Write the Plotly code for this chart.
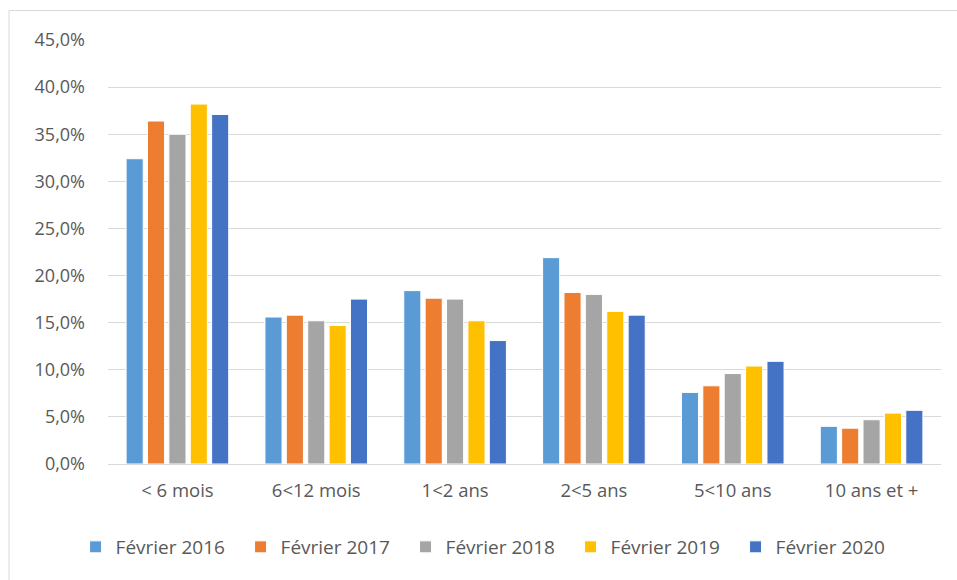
import plotly.graph_objects as go

categories = ["< 6 mois", "6<12 mois", "1<2 ans", "2<5 ans", "5<10 ans", "10 ans et +"]

series_names = ["Février 2016", "Février 2017", "Février 2018", "Février 2019", "Février 2020"]
fev_2016 = [32.4, 15.6, 18.4, 21.9, 7.6, 4.0]
fev_2017 = [36.4, 15.8, 17.6, 18.2, 8.3, 3.8]
fev_2018 = [35.0, 15.2, 17.5, 18.0, 9.6, 4.7]
fev_2019 = [38.2, 14.7, 15.2, 16.2, 10.4, 5.4]
fev_2020 = [37.1, 17.5, 13.1, 15.8, 10.9, 5.7]

colors = ["#5B9BD5", "#ED7D31", "#A5A5A5", "#FFC000", "#4472C4"]
tick_values = [0, 5, 10, 15, 20, 25, 30, 35, 40, 45]

fig = go.Figure()
for name, vals, col in zip(series_names,
                           [fev_2016, fev_2017, fev_2018, fev_2019, fev_2020],
                           colors):
    fig.add_trace(go.Bar(
        x=categories,
        y=[v / 100 for v in vals],
        name=name,
        marker=dict(color=col, line=dict(color="white", width=1)),
    ))

font_family = "Open Sans, Liberation Sans, sans-serif"
text_color = "#595959"

fig.update_layout(
    width=957,
    height=580,
    margin=dict(l=108, r=16, t=40, b=116),
    paper_bgcolor="white",
    plot_bgcolor="white",
    barmode="group",
    bargap=0.23,
    bargroupgap=0.2,
    separators=", ",
    font=dict(family=font_family, size=18, color=text_color),
    showlegend=True,
    legend=dict(
        orientation="h",
        xref="container",
        yref="container",
        x=0.51,
        xanchor="center",
        y=(580 - 547) / 580,
        yanchor="middle",
        font=dict(size=19, color=text_color),
        itemwidth=30,
        entrywidth=120,
        entrywidthmode="pixels",
        traceorder="normal",
    ),
    xaxis=dict(
        showgrid=False,
        showline=True,
        linecolor="#D9D9D9",
        linewidth=1,
        ticks="",
        tickfont=dict(size=18.5, color=text_color),
        ticklabelstandoff=10,
    ),
    yaxis=dict(
        range=[0, 0.45],
        tickvals=[t / 100 for t in tick_values],
        tickformat=".1%",
        showgrid=True,
        gridcolor="#D9D9D9",
        gridwidth=1,
        zeroline=False,
        showline=False,
        ticks="",
        tickfont=dict(size=18, color=text_color),
        ticklabelstandoff=22,
    ),
    shapes=[dict(
        type="rect",
        xref="paper", yref="paper",
        x0=(9 - 108) / 833, x1=(990 - 108) / 833,
        y0=-(600 - 464) / 424, y1=(464 - 10.5) / 424,
        line=dict(color="#D9D9D9", width=1),
        fillcolor="rgba(0,0,0,0)",
        layer="below",
    )],
)

fig.write_html("out.html")
